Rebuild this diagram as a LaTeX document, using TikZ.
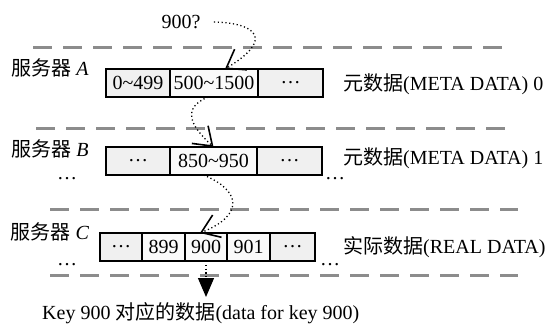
\documentclass[tikz,border=0pt]{standalone}
\usepackage{fontspec}
\setmainfont{Liberation Serif}
\newfontfamily\cjk{Noto Sans CJK SC}
\usepackage{xcolor}
\usetikzlibrary{positioning,arrows.meta,calc}

\begin{document}
\begin{tikzpicture}[
  x=1pt, y=-1pt,
  font=\fontsize{20pt}{24pt}\selectfont,
  cell/.style={rectangle, draw=black, line width=1.6pt, fill=black!2,
             outer sep=0pt, inner sep=0pt, minimum height=28pt},
  ecell/.style={cell, fill=black!6},
  divider/.style={draw=black!45, line width=3pt, dash pattern=on 19pt off 11pt},
  hop/.style={line width=1.3pt, dash pattern=on 1.2pt off 2.6pt,
             -{Straight Barb[length=17pt,width=24pt,line width=1.6pt]}},
  lbl/.style={anchor=west, inner sep=0pt},
]
\useasboundingbox (0,0) rectangle (553,324);

% --- dividers ---
\draw[divider] (33,47)  -- (502,47);
\draw[divider] (36,128) -- (505,128);
\draw[divider] (50,209) -- (518,209);
\draw[divider] (50,275) -- (518,275);

% --- query ---
\node (q) at (181,22) {900?};

% --- server A ---
\node (sa) at (50,68) {{\cjk 服务器} \textit{A}};
\node[ecell, minimum width=64pt, anchor=west] (a1) at (106,83) {0\textasciitilde499};
\node[cell, minimum width=88pt, right=0pt of a1] (a2) {500\textasciitilde1500};
\node[ecell, minimum width=65pt, right=0pt of a2] (a3) {\ldots};
\node[lbl] (ma) at (343,84) {{\cjk 元数据}(META DATA) 0};

% --- server B ---
\node (sb) at (50,149) {{\cjk 服务器} \textit{B}};
\node (lb) at (67,179) {\ldots};
\node[ecell, minimum width=64pt, anchor=west] (b1) at (106,161) {\ldots};
\node[cell, minimum width=87pt, right=0pt of b1] (b2) {850\textasciitilde950};
\node[ecell, minimum width=65pt, right=0pt of b2] (b3) {\ldots};
\node (rb) at (335,179) {\ldots};
\node[lbl] (mb) at (343,158) {{\cjk 元数据}(META DATA) 1};

% --- server C ---
\node (sc) at (50,232) {{\cjk 服务器} \textit{C}};
\node (lc) at (67,265) {\ldots};
\node[ecell, minimum width=42pt, anchor=west] (c1) at (100,247) {\ldots};
\node[cell, minimum width=43pt, right=0pt of c1] (c2) {899};
\node[cell, minimum width=42pt, right=0pt of c2] (c3) {900};
\node[cell, minimum width=43pt, right=0pt of c3] (c4) {901};
\node[ecell, minimum width=45pt, right=0pt of c4] (c5) {\ldots};
\node (rc) at (330,265) {\ldots};
\node[lbl] (mc) at (343,247) {{\cjk 实际数据}(REAL DATA)};

% --- result ---
\node[lbl] (res) at (42,313) {Key 900 {\cjk 对应的数据}(data for key 900)};
\coordinate (tip) at ($(c3.south)+(0,36)$);

% --- lookup path ---
\draw[hop] ([xshift=10pt]q.east) .. controls +(42,1) and +(50,-30) .. ([xshift=11pt]a2.north);
\draw[hop] ([xshift=-6pt]a2.south) .. controls +(-26,11) and +(-24,-22) .. (b2.north);
\draw[hop] ([xshift=-10pt]b2.south) .. controls +(37,15) and +(45,-18) .. ([xshift=-6pt]c3.north);
\draw[line width=1.3pt, dash pattern=on 1.2pt off 2.6pt,
      -{Triangle[length=19pt,width=16pt]}] (c3.south) -- (tip);

\end{tikzpicture}
\end{document}
